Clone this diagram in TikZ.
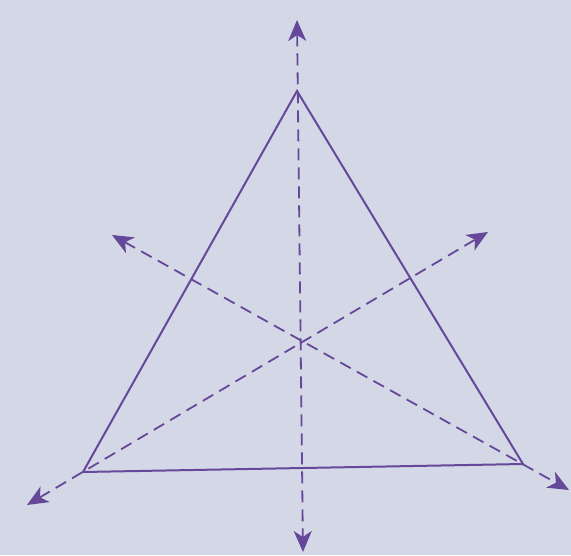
\documentclass[tikz,border=0pt]{standalone}
\usetikzlibrary{arrows.meta}
\definecolor{bgc}{HTML}{D4D7E5}
\definecolor{pur}{HTML}{66489A}
\tikzset{
  side/.style={draw=pur, line width=2pt, line join=miter},
  axis/.style={draw=pur, line width=1.8pt, dash pattern=on 12pt off 7pt,
    {Stealth[length=21pt,width=18pt,inset=6pt]}-{Stealth[length=21pt,width=18pt,inset=6pt]}}
}
\begin{document}
\begin{tikzpicture}[x=1pt,y=-1pt]
  \fill[bgc] (0,0) rectangle (571,555);
  \useasboundingbox (0,0) rectangle (571,555);
  \coordinate (A) at (297,91);
  \coordinate (B) at (83,472);
  \coordinate (C) at (523,464);
  \coordinate (T1) at (297,20);
  \coordinate (T2) at (303,552);
  \coordinate (L1) at (27,505);
  \coordinate (L2) at (488,232);
  \coordinate (M1) at (112,235);
  \coordinate (M2) at (569,490);
  \draw[side] (A) -- (B) -- (C) -- cycle;
  \draw[axis] (T1) -- (T2);
  \draw[axis] (L1) -- (L2);
  \draw[axis] (M1) -- (M2);
\end{tikzpicture}
\end{document}
